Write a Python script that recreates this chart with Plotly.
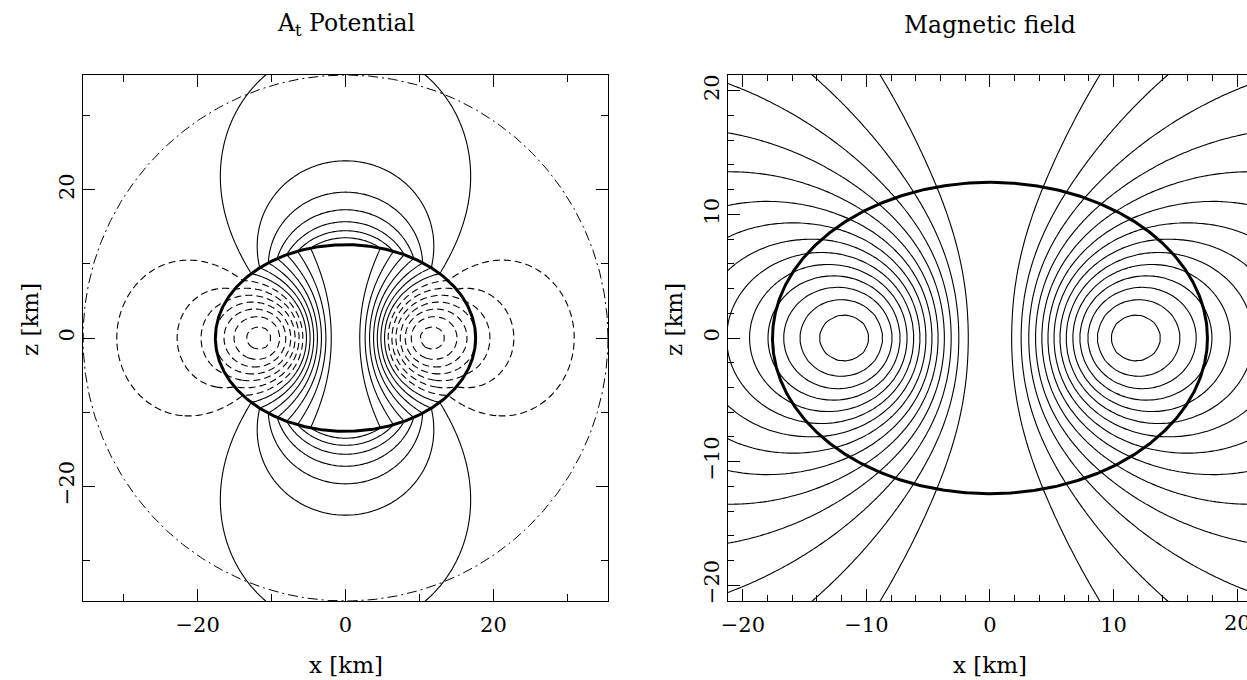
import numpy as np
import plotly.graph_objects as go
from numpy.polynomial import legendre as npleg

# ---------------- text, axes ----------------
LEFT_TITLE = "A<sub>t</sub> Potential"
RIGHT_TITLE = "Magnetic field"
X_LABEL = "x [km]"
Z_LABEL = "z [km]"
LEFT_RANGE = [-35.5, 35.5]
RIGHT_XRANGE = [-21.2, 20.8]
RIGHT_YRANGE = [-21.28, 21.28]
LEFT_TICK_STEP = [20, 10]      # major, minor
RIGHT_TICK_STEP = [10, 2]
RIGHT_CUT_TICK = [20]          # tick label cut by the window edge

# ---------------- star model ----------------
STAR_SEMI_AXES = [17.6, 12.6]          # equatorial, polar semi-axis [km]
OUTER_RADIUS = [35.5]                  # dash-dot circle [km]
CURRENT_SCALES = [8.3, 5.2]            # J_phi ~ x exp(-(x/sx)^2-(z/sz)^2) inside the star
FIELD_PEAK_LEVEL = [14.6]              # psi_max in units of the contour step
FIELD_LEVELS = list(range(1, 15))      # field lines psi = n * step
POTENTIAL_OFFSET = [7.2]               # A_t = offset - psi/step inside the star
POTENTIAL_LEVELS_POS = list(range(0, 7))
POTENTIAL_LEVELS_NEG = list(range(-7, 0))
MULTIPOLES = [0, 2, 4, 6, 8, 10, 12]

A_STAR, B_STAR = STAR_SEMI_AXES
SX, SZ = CURRENT_SCALES


def loop_flux(a, z0, w, z):
    dz = z - z0
    s2 = (a + w) ** 2 + dz ** 2
    k2 = np.clip(4.0 * a * w / s2, 0.0, 1.0 - 1e-12)
    an = np.ones_like(k2)
    bn = np.sqrt(1.0 - k2)
    csum = 0.5 * k2
    pw = 0.5
    for _ in range(7):
        cn = 0.5 * (an - bn)
        an, bn = 0.5 * (an + bn), np.sqrt(an * bn)
        pw *= 2.0
        csum += pw * cn * cn
    K = np.pi / (2.0 * an)
    E = K * (1.0 - csum)
    return np.sqrt(s2) * ((1.0 - 0.5 * k2) * K - E)


HS = 0.5
ag = HS * (np.arange(int(A_STAR / HS) + 1) + 0.5)
zg = HS * (np.arange(int(B_STAR / HS) + 1) + 0.5)
AG, ZG = np.meshgrid(ag, zg)
QS = (AG / A_STAR) ** 2 + (ZG / B_STAR) ** 2
MS = QS < 1
BA, BZ = AG[MS], ZG[MS]
BW = BA * np.exp(-(BA / SX) ** 2 - (BZ / SZ) ** 2) * HS * HS
SRC_A = np.concatenate([BA, BA])
SRC_Z = np.concatenate([BZ, -BZ])
SRC_W = np.concatenate([BW, BW])


def psi_at(w, z):
    w = np.asarray(w, float).ravel()
    z = np.asarray(z, float).ravel()
    out = np.zeros(w.size)
    ch = 800
    for s in range(0, w.size, ch):
        out[s:s + ch] = (loop_flux(SRC_A[None, :], SRC_Z[None, :], w[s:s + ch, None], z[s:s + ch, None])
                         * SRC_W[None, :]).sum(1)
    return out


G = 0.3 * np.arange(121)            # 0 .. 36 km
WG, ZGT = np.meshgrid(G, G)         # [iz, ix]
PSI = psi_at(WG, ZGT).reshape(WG.shape)
STEP = PSI.max() / FIELD_PEAK_LEVEL[0]

# A_t: inside from the flux function, outside from a multipole fit of the surface values
tt = np.linspace(0, np.pi / 2, 241)
xs_s = A_STAR * np.cos(tt)
zs_s = B_STAR * np.sin(tt)
v_s = POTENTIAL_OFFSET[0] - psi_at(xs_s, zs_s) / STEP
r_s = np.hypot(xs_s, zs_s)
mu_s = zs_s / r_s
R0 = 15.0


def unit(l):
    c = np.zeros(l + 1)
    c[l] = 1
    return c


BAS = np.stack([npleg.legval(mu_s, unit(l)) * (R0 / r_s) ** (l + 1) for l in MULTIPOLES], 1)
COEF = np.linalg.lstsq(BAS, v_s, rcond=None)[0]
RG = np.hypot(WG, ZGT)
RGs = np.where(RG > 0, RG, 1.0)
MUG = ZGT / RGs
EXT = sum(c * npleg.legval(MUG, unit(l)) * (R0 / RGs) ** (l + 1) for c, l in zip(COEF, MULTIPOLES))
INSIDE = (WG / A_STAR) ** 2 + (ZGT / B_STAR) ** 2 < 1
AT = np.where(INSIDE, POTENTIAL_OFFSET[0] - PSI / STEP, EXT)


def mirror(F):
    F2 = np.concatenate([F[:, :0:-1], F], axis=1)
    return np.concatenate([F2[:0:-1, :], F2], axis=0)


FULL = np.concatenate([-G[:0:-1], G])
AT_F = np.round(mirror(AT), 4)
keep = np.abs(FULL) <= 22.5
RX = FULL[keep]
PSI_R = np.round(mirror(PSI / STEP), 4)[np.ix_(keep, keep)]

BLACK = [[0, "black"], [1, "black"]]
fig = go.Figure()

# left panel: A_t potential
fig.add_trace(go.Contour(
    x=FULL, y=FULL, z=AT_F, xaxis="x", yaxis="y", autocontour=False,
    contours=dict(coloring="lines", start=POTENTIAL_LEVELS_POS[0], end=POTENTIAL_LEVELS_POS[-1], size=1),
    line=dict(width=1.1, smoothing=0.8), colorscale=BLACK, showscale=False, hoverinfo="skip"))
fig.add_trace(go.Contour(
    x=FULL, y=FULL, z=AT_F, xaxis="x", yaxis="y", autocontour=False,
    contours=dict(coloring="lines", start=POTENTIAL_LEVELS_NEG[0], end=POTENTIAL_LEVELS_NEG[-1], size=1),
    line=dict(width=1.1, smoothing=0.8, dash="7px,4px"), colorscale=BLACK, showscale=False, hoverinfo="skip"))

th = np.linspace(0, 2 * np.pi, 721)
fig.add_trace(go.Scatter(x=OUTER_RADIUS[0] * np.cos(th), y=OUTER_RADIUS[0] * np.sin(th), mode="lines",
                         line=dict(color="black", width=1, dash="10px,4px,2px,4px"), xaxis="x", yaxis="y",
                         hoverinfo="skip"))

# right panel: magnetic field lines
fig.add_trace(go.Contour(
    x=RX, y=RX, z=PSI_R, xaxis="x2", yaxis="y2", autocontour=False,
    contours=dict(coloring="lines", start=FIELD_LEVELS[0], end=FIELD_LEVELS[-1], size=1),
    line=dict(width=1.1, smoothing=0.8), colorscale=BLACK, showscale=False, hoverinfo="skip"))

for xa, ya in (("x", "y"), ("x2", "y2")):
    fig.add_trace(go.Scatter(x=A_STAR * np.cos(th), y=B_STAR * np.sin(th), mode="lines",
                             line=dict(color="black", width=3), xaxis=xa, yaxis=ya, hoverinfo="skip"))

W, H = 1247, 680
FONT = "DejaVu Serif"


def axis(dom, rng, step, ticklen, minorlen, anchor, angle=0, mirror="allticks", standoff=0):
    return dict(domain=dom, range=rng, anchor=anchor, showline=True, linecolor="black", linewidth=1,
                mirror=mirror, ticks="inside", ticklen=ticklen, tickwidth=1, tickcolor="black",
                automargin=False, tick0=0, dtick=step[0], showgrid=False, zeroline=False, tickangle=angle,
                ticklabelstandoff=standoff, tickfont=dict(family=FONT, size=21, color="black"),
                minor=dict(ticks="inside", dtick=step[1], tick0=0, ticklen=minorlen, tickcolor="black",
                           tickwidth=1, showgrid=False))


fig.update_layout(
    width=W, height=H, margin=dict(l=0, r=0, t=0, b=0), paper_bgcolor="white", plot_bgcolor="white",
    showlegend=False, font=dict(family=FONT, color="black"),
    xaxis=axis([83 / W, 608 / W], LEFT_RANGE, LEFT_TICK_STEP, 12, 7, "y", standoff=5),
    yaxis=axis([1 - 601 / H, 1 - 75 / H], LEFT_RANGE, LEFT_TICK_STEP, 12, 7, "x", -90),
    xaxis2=axis([728 / W, 1.0], RIGHT_XRANGE, RIGHT_TICK_STEP, 12, 6, "y2", standoff=5),
    yaxis2=axis([1 - 601 / H, 1 - 75 / H], RIGHT_YRANGE, RIGHT_TICK_STEP, 12, 6, "x2", -90, mirror=False),
)

ann = [
    (LEFT_TITLE, 346, 25, 0, 23.5), (RIGHT_TITLE, 990, 25, 0, 23.5),
    (X_LABEL, 346, 665, 0, 23), (X_LABEL, 990, 665, 0, 23),
    (Z_LABEL, 30, 320, -90, 23), (Z_LABEL, 674, 320, -90, 23),
]
for txt, px, py, ang, sz in ann:
    fig.add_annotation(text=txt, x=px / W, y=1 - py / H, xref="paper", yref="paper", showarrow=False,
                       textangle=ang, font=dict(family=FONT, size=sz, color="black"),
                       xanchor="center", yanchor="middle")
for tv in RIGHT_CUT_TICK:
    fig.add_annotation(text=str(tv), x=tv, xref="x2", y=1 - 623 / H, yref="paper", showarrow=False,
                       font=dict(family=FONT, size=21, color="black"), xanchor="center", yanchor="middle")

fig.write_html("out.html")
